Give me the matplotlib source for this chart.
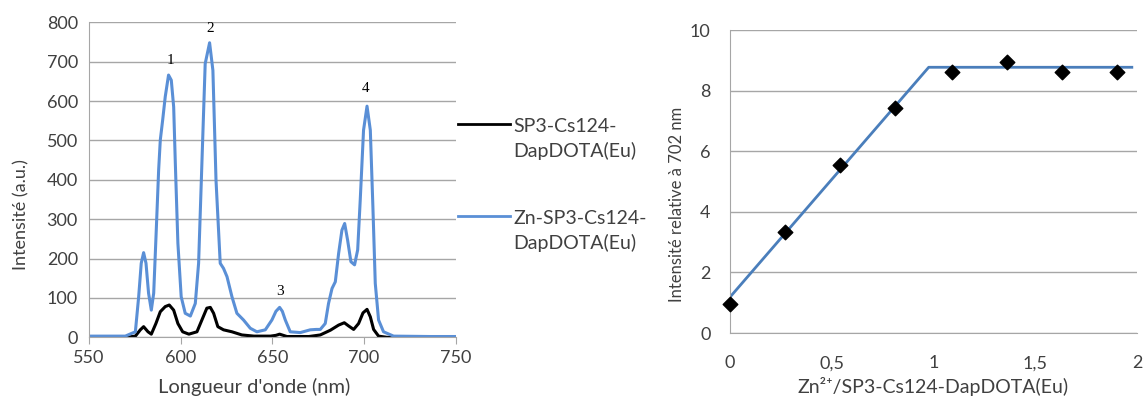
import matplotlib
matplotlib.use("Agg")
import matplotlib.pyplot as plt
from matplotlib.lines import Line2D
from matplotlib.ticker import FuncFormatter

plt.rcParams['font.family'] = ['Lato', 'DejaVu Sans']

# emission spectra
wl_zn = [550, 560, 569.8, 575.3, 577.1, 578.5, 579.8, 581.1, 582.5, 584.0, 585.3,
         586.7, 588, 588.9, 590.2, 591.6, 593.4, 594.9, 596.2, 597.1, 598.5, 600.3,
         602.5, 605.3, 608, 609.8, 611.6, 613.4, 615.8, 617.6, 619.3, 621.6, 623.4,
         625.3, 628, 630.7, 634.3, 638, 641.6, 646.2, 649.8, 652, 654, 655.5, 657.1,
         659.8, 665.3, 670.7, 674, 676.2, 678.9, 680.7, 682.6, 684.4, 686.2, 688,
         689.5, 691.1, 692.9, 694.9, 696.6, 698, 699.8, 701.7, 703.5, 704.9, 706.2,
         708, 710.7, 716.2, 736.2, 750]
int_zn = [3, 3, 3, 14, 103, 188, 215, 188, 112, 69, 112,
          272, 425, 501, 552, 611, 666, 653, 585, 442, 239, 103,
          61, 54, 86, 188, 442, 695, 748, 678, 399, 188, 175,
          154, 103, 61, 44, 23, 14, 19, 44, 66, 76, 66, 44,
          14, 12, 19, 20, 20, 35, 86, 124, 141, 213, 272,
          289, 247, 192, 184, 222, 349, 526, 587, 526, 332, 137,
          44, 14, 3, 2, 2]

wl_free = [550, 570, 575.3, 578, 579.8, 582.2, 584, 586.5, 588.9, 591.6, 593.8,
           596.2, 598.5, 601.1, 604.5, 608.9, 611.6, 614.3, 616.2, 618, 620.3,
           623.4, 628, 633.4, 640, 649, 652, 654, 656, 658, 670, 676.2, 681.7,
           686.2, 689.3, 691.6, 694.4, 697.1, 699.5, 701.7, 703.5, 705.3, 708,
           712.5, 750]
int_free = [0, 0, 3, 19, 27, 14, 8, 35, 65, 78, 82,
            69, 35, 14, 8, 14, 44, 74, 76, 61, 27,
            19, 14, 6, 3, 3, 5, 8, 5, 2, 2, 6, 18,
            31, 37, 29, 20, 35, 62, 71, 52, 20, 3,
            0, 0]

peak_labels = ['1', '2', '3', '4']
peak_x = [594.5, 616, 654, 701]
peak_y = [704, 785, 116, 632]

# titration
ratio = [0, 0.27, 0.54, 0.81, 1.09, 1.36, 1.63, 1.90]
rel_int = [0.97, 3.35, 5.55, 7.44, 8.63, 8.93, 8.63, 8.63]
fit_x = [0, 0.977, 1.975]
fit_y = [1.18, 8.77, 8.77]

grid_c = '#a6a6a6'
txt_c = '#404040'
blue = '#5a8fd6'

fig = plt.figure(figsize=(11.44, 3.98), dpi=100)

# left: spectra
ax1 = fig.add_axes([0.0778, 0.1525, 0.3204, 0.7915])
ax1.plot(wl_free, int_free, color='black', lw=2.2, solid_joinstyle='round')
ax1.plot(wl_zn, int_zn, color=blue, lw=2.2, solid_joinstyle='round')
for lab, px, py in zip(peak_labels, peak_x, peak_y):
    ax1.text(px, py, lab, family='Liberation Serif', fontsize=11, ha='center', va='center')
ax1.set_xlim(550, 750)
ax1.set_ylim(0, 800)
ax1.set_xticks(range(550, 751, 50))
ax1.set_yticks(range(0, 801, 100))
ax1.yaxis.grid(True, color=grid_c, lw=1)
ax1.set_axisbelow(True)
for s in ['top', 'right']:
    ax1.spines[s].set_visible(False)
for s in ['left', 'bottom']:
    ax1.spines[s].set_color(grid_c)
ax1.tick_params(axis='y', length=0, labelsize=13, colors=txt_c, pad=8)
ax1.tick_params(axis='x', length=5, color=grid_c, labelsize=13, labelcolor=txt_c, pad=4)
ax1.set_xlabel("Longueur d'onde (nm)", fontsize=14.5, color=txt_c)
ax1.xaxis.set_label_coords(0.45, -0.13)
ax1.set_ylabel("Intensité (a.u.)", fontsize=13, color=txt_c)
ax1.yaxis.set_label_coords(-0.163, 0.39)

# legend drawn by hand
for y_line, c, lab in [(0.688, 'black', 'SP3-Cs124-\nDapDOTA(Eu)'),
                       (0.457, blue, 'Zn-SP3-Cs124-\nDapDOTA(Eu)')]:
    fig.add_artist(Line2D([0.400, 0.446], [y_line, y_line], color=c, lw=2))
    fig.text(0.449, y_line + 0.016, lab, fontsize=14, color=txt_c, va='top',
             linespacing=1.45)

# right: titration
ax2 = fig.add_axes([0.638, 0.1633, 0.3558, 0.7613])
ax2.plot(fit_x, fit_y, color='#4a7ebb', lw=2)
ax2.scatter(ratio, rel_int, marker='D', s=55, color='black', zorder=3, clip_on=False)
ax2.set_xlim(0, 2)
ax2.set_ylim(0, 10)
ax2.set_xticks([0, 0.5, 1, 1.5, 2])
ax2.set_yticks(range(0, 11, 2))
ax2.xaxis.set_major_formatter(FuncFormatter(lambda v, p: ('%g' % v).replace('.', ',')))
ax2.yaxis.grid(True, color=grid_c, lw=1)
ax2.set_axisbelow(True)
for s in ['top', 'right']:
    ax2.spines[s].set_visible(False)
for s in ['left', 'bottom']:
    ax2.spines[s].set_color(grid_c)
ax2.tick_params(length=0, labelsize=13, colors=txt_c)
ax2.tick_params(axis='y', pad=14)
ax2.tick_params(axis='x', pad=16)
ax2.set_xlabel("Zn²⁺/SP3-Cs124-DapDOTA(Eu)", fontsize=14, color=txt_c)
ax2.xaxis.set_label_coords(0.5, -0.145)
ax2.set_ylabel("Intensité relative à 702 nm", fontsize=12, color=txt_c)
ax2.yaxis.set_label_coords(-0.11, 0.426)

fig.savefig('out.png', dpi=100)
